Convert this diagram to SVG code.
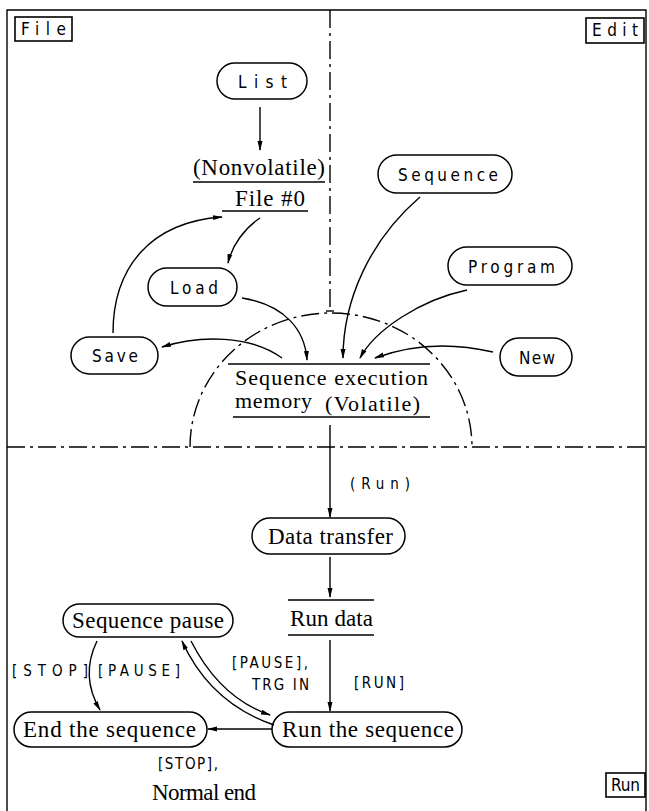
<svg xmlns="http://www.w3.org/2000/svg" width="649" height="811" viewBox="0 0 649 811">
<style>
.ln{fill:none;stroke:#000;stroke-width:1.4}
.dd{fill:none;stroke:#000;stroke-width:1.4;stroke-dasharray:18 5 3 5}
.pill{fill:#fff;stroke:#000;stroke-width:1.5}
.box{fill:#fff;stroke:#000;stroke-width:1.6}
.sp{font-family:"DejaVu Sans Condensed","Liberation Sans",sans-serif;font-size:17px;fill:#000}
.sr{font-family:"Liberation Serif","Times New Roman",serif;font-size:23px;fill:#000}
.mm{font-family:"Liberation Serif","Times New Roman",serif;font-size:22px;fill:#000}
.lb{font-family:"DejaVu Sans Condensed","Liberation Sans",sans-serif;font-size:15px;fill:#000}
</style>
<defs>
<marker id="ah" markerWidth="10" markerHeight="6" refX="9" refY="3" orient="auto" markerUnits="userSpaceOnUse">
<path d="M0,0.5 L10,3 L0,5.5 z" fill="#000"/>
</marker>
</defs>
<rect width="649" height="811" fill="#fff"/>
<g id="frame">
<path class="ln" d="M7,811 V10 H646 V811"/>
<path class="dd" d="M330,10 V311"/>
<path class="ln" d="M326,311 H334"/>
<path class="dd" d="M7,447 H646"/>
<path class="dd" d="M190,447 A141,134 0 0 1 472,447"/>
</g>
<g id="tab-file"><rect class="box" x="15" y="17" width="57" height="24"/><text class="sp" x="21" y="35" textLength="45" lengthAdjust="spacing">File</text></g>
<g id="tab-edit"><rect class="box" x="586" y="18" width="58" height="25"/><text class="sp" x="592" y="36" textLength="46" lengthAdjust="spacing">Edit</text></g>
<g id="tab-run"><rect class="box" x="606" y="773" width="39" height="24"/><text class="sp" x="611" y="791" textLength="29" lengthAdjust="spacing">Run</text></g>
<g id="list"><rect class="pill" x="217" y="63" width="90" height="36" rx="18"/><text class="sp" x="238" y="88" textLength="49" lengthAdjust="spacing">List</text></g>
<g id="file0"><text class="sr" x="259" y="175" text-anchor="middle" textLength="132" lengthAdjust="spacing">(Nonvolatile)</text><path class="ln" d="M193,182 H325"/><text class="sr" x="270" y="206" text-anchor="middle" textLength="70" lengthAdjust="spacing">File #0</text><path class="ln" d="M222,211 H308"/></g>
<g id="sequence"><rect class="pill" x="378" y="155" width="134" height="38" rx="19"/><text class="sp" x="398" y="181" textLength="100" lengthAdjust="spacing">Sequence</text></g>
<g id="program"><rect class="pill" x="448" y="247" width="124" height="38" rx="19"/><text class="sp" x="468" y="273" textLength="87" lengthAdjust="spacing">Program</text></g>
<g id="new"><rect class="pill" x="500" y="338" width="72" height="38" rx="19"/><text class="sp" x="519" y="364" textLength="36" lengthAdjust="spacing">New</text></g>
<g id="load"><rect class="pill" x="148" y="268" width="89" height="38" rx="19"/><text class="sp" x="170" y="294" textLength="48" lengthAdjust="spacing">Load</text></g>
<g id="save"><rect class="pill" x="71" y="337" width="87" height="37" rx="18.5"/><text class="sp" x="92" y="362" textLength="46" lengthAdjust="spacing">Save</text></g>
<g id="memory"><path class="ln" d="M228,364 H430"/><text class="mm" x="235" y="385" textLength="193" lengthAdjust="spacing">Sequence execution</text><text class="mm" x="235" y="408" textLength="77" lengthAdjust="spacing">memory</text><text class="mm" x="325" y="411" textLength="95" lengthAdjust="spacing">(Volatile)</text><path class="ln" d="M233,417 H430"/></g>
<g id="data-transfer"><rect class="pill" x="252" y="518" width="153" height="36" rx="18"/><text class="sr" x="268" y="544" textLength="125" lengthAdjust="spacing">Data transfer</text></g>
<g id="run-data"><path class="ln" d="M288,600 H374"/><text class="sr" x="290" y="626" textLength="83" lengthAdjust="spacing">Run data</text><path class="ln" d="M288,635 H374"/></g>
<g id="seq-pause"><rect class="pill" x="63" y="604" width="170" height="33" rx="16.5"/><text class="sr" x="72" y="628" textLength="152" lengthAdjust="spacing">Sequence pause</text></g>
<g id="end-seq"><rect class="pill" x="14" y="712" width="193" height="35" rx="17.5"/><text class="sr" x="23" y="737" textLength="173" lengthAdjust="spacing">End the sequence</text></g>
<g id="run-seq"><rect class="pill" x="272" y="712" width="190" height="35" rx="17.5"/><text class="sr" x="282" y="737" textLength="172" lengthAdjust="spacing">Run the sequence</text></g>
<g id="connectors">
<path class="ln" marker-end="url(#ah)" d="M260,107 V150"/>
<path class="ln" marker-end="url(#ah)" d="M113,333 C113,268 150,222 222,217"/>
<path class="ln" marker-end="url(#ah)" d="M260,218 C245,228 232,245 228,263"/>
<path class="ln" marker-end="url(#ah)" d="M242,298 C285,305 305,330 307,360"/>
<path class="ln" marker-end="url(#ah)" d="M420,197 C370,240 343,300 343,358"/>
<path class="ln" marker-end="url(#ah)" d="M467,290 C420,300 375,330 360,358"/>
<path class="ln" marker-end="url(#ah)" d="M493,352 C450,342 410,345 375,358"/>
<path class="ln" marker-end="url(#ah)" d="M282,358 C250,335 200,335 162,347"/>
<path class="ln" marker-end="url(#ah)" d="M330,425 V517"/>
<path class="ln" marker-end="url(#ah)" d="M330,557 V597"/>
<path class="ln" marker-end="url(#ah)" d="M330,640 V711"/>
<path class="ln" marker-end="url(#ah)" d="M272,729 H208"/>
<path class="ln" marker-end="url(#ah)" d="M97,641 Q80,676 100,710"/>
<path class="ln" marker-end="url(#ah)" d="M274,725 Q210,703 182,641"/>
<path class="ln" marker-end="url(#ah)" d="M191,641 Q220,698 270,715"/>
<text class="lb" x="350" y="489" textLength="60" lengthAdjust="spacing">(Run)</text>
<text class="lb" x="354" y="688" textLength="50" lengthAdjust="spacing">[RUN]</text>
<text class="lb" x="12" y="676" textLength="76" lengthAdjust="spacing">[STOP]</text>
<text class="lb" x="98" y="676" textLength="82" lengthAdjust="spacing">[PAUSE]</text>
<text class="lb" x="232" y="668" textLength="76" lengthAdjust="spacing">[PAUSE],</text>
<text class="lb" x="252" y="690" textLength="57" lengthAdjust="spacing">TRG IN</text>
<text class="lb" x="158" y="769" textLength="60" lengthAdjust="spacing">[STOP],</text>
<text class="sr" x="152" y="800" textLength="104" lengthAdjust="spacing">Normal end</text>
</g>
</svg>
